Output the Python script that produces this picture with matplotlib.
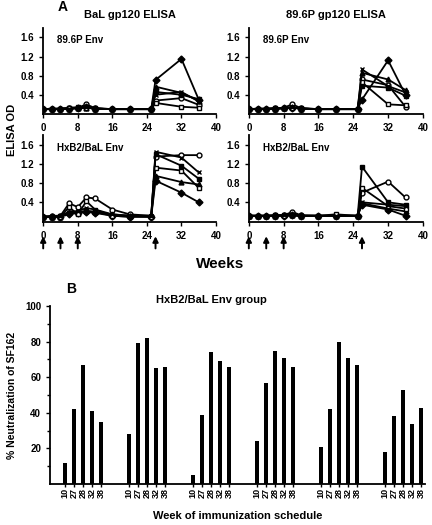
import matplotlib.pyplot as plt
import numpy as np

plt.rcParams['font.family'] = 'Liberation Sans'
plt.rcParams['font.weight'] = 'bold'

# ---- panel A data ----
weeks = [0, 2, 4, 6, 8, 10, 12, 16, 20, 25, 26, 32, 36]
immunizations = [0, 4, 8, 26]
markers = [('o', 'white'), ('D', 'black'), ('^', 'black'), ('s', 'black'), ('s', 'white'), ('x', 'black')]

bal_896 = [
    [0.1, 0.11, 0.11, 0.12, 0.13, 0.2, 0.12, 0.1, 0.1, 0.1, 0.28, 0.33, 0.19],
    [0.1, 0.1, 0.1, 0.11, 0.12, 0.14, 0.11, 0.1, 0.1, 0.1, 0.71, 1.15, 0.3],
    [0.1, 0.1, 0.1, 0.11, 0.12, 0.13, 0.11, 0.1, 0.1, 0.1, 0.57, 0.44, 0.28],
    [0.1, 0.11, 0.11, 0.13, 0.14, 0.15, 0.12, 0.1, 0.1, 0.1, 0.46, 0.4, 0.31],
    [0.1, 0.1, 0.11, 0.12, 0.13, 0.13, 0.11, 0.1, 0.1, 0.1, 0.23, 0.15, 0.13],
    [0.1, 0.1, 0.1, 0.11, 0.12, 0.14, 0.11, 0.1, 0.1, 0.1, 0.4, 0.46, 0.26],
]
p896_896 = [
    [0.1, 0.11, 0.11, 0.12, 0.13, 0.2, 0.12, 0.1, 0.1, 0.1, 0.72, 0.6, 0.15],
    [0.1, 0.1, 0.1, 0.11, 0.12, 0.13, 0.11, 0.1, 0.1, 0.1, 0.3, 1.12, 0.4],
    [0.1, 0.1, 0.1, 0.11, 0.12, 0.14, 0.11, 0.1, 0.1, 0.1, 0.86, 0.72, 0.5],
    [0.1, 0.11, 0.11, 0.12, 0.12, 0.13, 0.12, 0.1, 0.1, 0.1, 0.59, 0.55, 0.38],
    [0.1, 0.1, 0.11, 0.11, 0.12, 0.13, 0.11, 0.1, 0.1, 0.1, 0.66, 0.2, 0.18],
    [0.1, 0.1, 0.1, 0.11, 0.12, 0.14, 0.11, 0.1, 0.1, 0.1, 0.93, 0.58, 0.45],
]
bal_hxb2 = [
    [0.1, 0.12, 0.12, 0.38, 0.3, 0.5, 0.48, 0.25, 0.15, 0.12, 1.35, 1.38, 1.38],
    [0.1, 0.1, 0.1, 0.15, 0.18, 0.2, 0.18, 0.12, 0.1, 0.1, 0.85, 0.6, 0.4],
    [0.1, 0.1, 0.1, 0.2, 0.18, 0.22, 0.2, 0.15, 0.12, 0.12, 0.95, 0.82, 0.77],
    [0.1, 0.1, 0.12, 0.18, 0.2, 0.22, 0.2, 0.12, 0.1, 0.1, 1.4, 1.16, 0.89],
    [0.1, 0.1, 0.1, 0.3, 0.15, 0.42, 0.25, 0.12, 0.12, 0.1, 1.12, 1.06, 0.7],
    [0.1, 0.1, 0.12, 0.2, 0.22, 0.28, 0.25, 0.15, 0.12, 0.12, 1.45, 1.33, 1.02],
]
p896_hxb2 = [
    [0.12, 0.12, 0.12, 0.13, 0.13, 0.2, 0.13, 0.12, 0.12, 0.12, 0.6, 0.83, 0.5],
    [0.12, 0.12, 0.12, 0.12, 0.12, 0.13, 0.12, 0.12, 0.12, 0.12, 0.35, 0.25, 0.12],
    [0.12, 0.12, 0.12, 0.12, 0.13, 0.14, 0.12, 0.12, 0.12, 0.12, 0.38, 0.27, 0.21],
    [0.12, 0.12, 0.12, 0.13, 0.13, 0.13, 0.12, 0.12, 0.12, 0.12, 1.14, 0.4, 0.35],
    [0.12, 0.12, 0.12, 0.12, 0.12, 0.13, 0.12, 0.12, 0.15, 0.12, 0.7, 0.32, 0.27],
    [0.12, 0.12, 0.12, 0.12, 0.13, 0.14, 0.12, 0.12, 0.12, 0.12, 0.4, 0.35, 0.32],
]

# ---- panel B data ----
bar_weeks = ['10', '27', '28', '32', '38']
neutralization = [
    [12, 42, 67, 41, 35],
    [28, 79, 82, 65, 66],
    [5, 39, 74, 69, 66],
    [24, 57, 75, 71, 66],
    [21, 42, 80, 71, 67],
    [18, 38, 53, 34, 43],
]

fig = plt.figure(figsize=(4.32, 5.25), dpi=100)

def line_panel(rect, series, env_label, title=None, arrows=False):
    ax = fig.add_axes(rect)
    for vals, (m, fc) in zip(series, markers):
        ax.plot(weeks, vals, color='black', lw=1.3, marker=m, ms=3.5,
                mfc=fc, mec='black', mew=1.0)
    ax.set_xlim(0, 40)
    ax.set_ylim(0, 1.8)
    ax.set_xticks([0, 8, 16, 24, 32, 40])
    ax.set_yticks([0.4, 0.8, 1.2, 1.6])
    ax.set_yticklabels(['0.4', '0.8', '1.2', '1.6'])
    ax.spines['top'].set_visible(False)
    ax.spines['right'].set_visible(False)
    ax.spines['left'].set_linewidth(1.3)
    ax.spines['bottom'].set_linewidth(1.3)
    ax.tick_params(labelsize=7, length=3, width=1)
    ax.text(0.08, 0.82, env_label, transform=ax.transAxes, fontsize=7, fontweight='bold')
    if title:
        ax.set_title(title, fontsize=8, fontweight='bold', pad=7)
    if arrows:
        for w in immunizations:
            ax.annotate('', xy=(w, -0.17), xytext=(w, -0.31),
                        xycoords=('data', 'axes fraction'),
                        arrowprops=dict(arrowstyle='-|>', color='black', lw=1.4,
                                        mutation_scale=8, shrinkA=0, shrinkB=0))
    return ax

line_panel([0.100, 0.783, 0.400, 0.164], bal_896, '89.6P Env', 'BaL gp120 ELISA')
line_panel([0.576, 0.783, 0.403, 0.164], p896_896, '89.6P Env', '89.6P gp120 ELISA')
line_panel([0.100, 0.578, 0.400, 0.165], bal_hxb2, 'HxB2/BaL Env', arrows=True)
line_panel([0.576, 0.578, 0.403, 0.165], p896_hxb2, 'HxB2/BaL Env', arrows=True)

fig.text(0.133, 0.986, 'A', fontsize=10, fontweight='bold', va='center')
fig.text(0.028, 0.752, 'ELISA OD', fontsize=8, fontweight='bold', rotation=90, va='center', ha='center')
fig.text(0.51, 0.497, 'Weeks', fontsize=11, fontweight='bold', ha='center', va='center')

# ---- panel B ----
axb = fig.add_axes([0.116, 0.078, 0.868, 0.339])
positions = []
labels = []
for g, group in enumerate(neutralization):
    pos = [7 * g + i + 2 for i in range(len(group))]
    axb.bar(pos, group, width=0.45, color='black')
    positions += pos
    labels += bar_weeks
axb.set_xlim(0.4, 41.4)
axb.set_ylim(0, 100)
axb.set_xticks(positions)
axb.set_xticklabels(labels, rotation=90, fontsize=6.5, fontweight='bold')
axb.set_yticks([20, 40, 60, 80, 100])
axb.set_yticks([10, 30, 50, 70, 90], minor=True)
axb.tick_params(axis='y', labelsize=7, length=3, width=1)
axb.tick_params(axis='y', which='minor', length=2, width=1)
axb.tick_params(axis='x', length=2, width=1, pad=1)
axb.spines['top'].set_visible(False)
axb.spines['right'].set_visible(False)
axb.spines['left'].set_linewidth(1.3)
axb.spines['bottom'].set_linewidth(1.3)
axb.set_title('HxB2/BaL Env group', fontsize=8, fontweight='bold', pad=2, x=0.43)
axb.set_ylabel('% Neutralization of SF162', fontsize=7.5, fontweight='bold', labelpad=6)
axb.set_xlabel('Week of immunization schedule', fontsize=8, fontweight='bold', labelpad=9)
fig.text(0.152, 0.45, 'B', fontsize=10, fontweight='bold', va='center')

fig.savefig('out.png', dpi=100)
